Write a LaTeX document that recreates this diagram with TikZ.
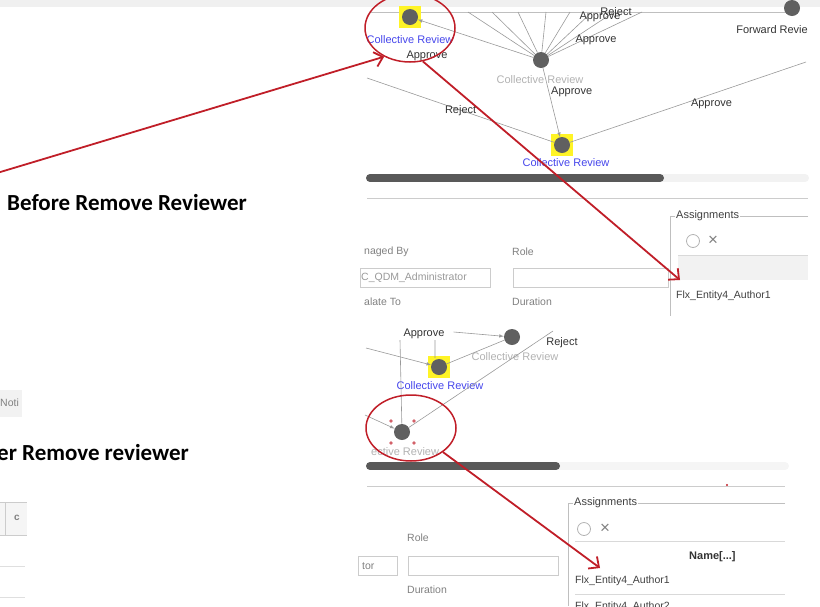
\documentclass[tikz,border=0pt]{standalone}
\usepackage{fontspec}
\setmainfont{Liberation Sans}
\newfontfamily\titlefont{Carlito}
\usetikzlibrary{positioning,arrows.meta,shapes.geometric}
\definecolor{crblue}{RGB}{70,70,235}
\definecolor{redmark}{RGB}{192,30,40}
\begin{document}
\begin{tikzpicture}[x=1pt,y=-1pt,
  dot/.style={circle,fill=gray!75!black,minimum size=16pt,inner sep=0pt},
  hilite/.style={fill=yellow!85!white,minimum size=22pt,inner sep=0pt},
  lbl/.style={font=\fontsize{11}{13}\selectfont,inner sep=1pt,text=black!80},
  flbl/.style={font=\fontsize{10.5}{12}\selectfont,inner sep=1pt,text=gray,anchor=west},
  edge/.style={gray!80,line width=0.6pt},
  ring/.style={ellipse,draw=redmark,line width=1.5pt,inner sep=0pt},
  redarr/.style={redmark,line width=1.8pt,-{Straight Barb[length=8pt,width=15pt]}},
  title/.style={font=\titlefont\bfseries\fontsize{23}{26}\selectfont,anchor=west,inner sep=0pt}]
\useasboundingbox (0,0) rectangle (820,606);
\fill[gray!12] (0,0) rectangle (820,7);
\draw[gray!50,line width=1pt] (370,12) -- (790,12);
% left page
\node[title] (before) at (7,203) {Before Remove Reviewer};
\node[title] (after) at (-3,453) {er Remove reviewer};
\fill[gray!10] (0,390) rectangle (22,417);
\node[flbl] (noti) at (-1,403) {Noti};
\fill[gray!8] (0,502) rectangle (27,535);
\draw[gray!40] (5,502) -- (5,535) (0,502) -- (27,502) (0,535) -- (27,535);
\node[flbl,font=\fontsize{10}{12}\selectfont\bfseries] at (13,518) {c};
\draw[gray!25] (0,566) -- (25,566) (0,597) -- (25,597);
% first graph
\node[hilite] at (410,17) {};
\node[dot] (cr1) at (410,17) {};
\node[lbl,text=crblue] (cr1t) at (410,40) {Collective Review};
\node[lbl] at (427,56) {Approve};
\node[dot] (cr2) at (541,60) {};
\node[lbl,text=gray!60] at (540,80) {Collective Review};
\foreach \X [count=\Y] in {468,492,518,546,570,592,614,642}
{\coordinate (fan-\Y) at (\X,12);
\draw[edge] (cr2) -- (fan-\Y);}
\draw[edge,-latex] (cr2) -- (cr1);
\node[lbl] at (600,17) {Approve};
\node[lbl] at (616,13) {Reject};
\node[lbl] at (596,40) {Approve};
\node[dot] (fwd) at (792,8) {};
\node[lbl,anchor=east] at (809,30) {Forward Revie};
\node[hilite] at (562,145) {};
\node[dot] (cr3) at (562,145) {};
\node[lbl,text=crblue] at (566,163) {Collective Review};
\draw[edge,-latex] (cr2) -- node[lbl,pos=0.35,right=1pt] {Approve} (cr3);
\coordinate (in1) at (367,78);
\coordinate (out1) at (806,62);
\draw[edge] (in1) -- node[lbl,pos=0.5] {Reject} (cr3);
\draw[edge] (cr3) -- node[lbl,pos=0.6,below=3pt] {Approve} (out1);
\draw[gray!10,line width=8pt,line cap=round] (370,178) -- (805,178);
\draw[gray!70!black,line width=8pt,line cap=round] (370,178) -- (660,178);
\draw[gray!40] (367,198) -- (808,198);
% first form
\node[flbl] at (363,252) {naged By};
\node[flbl] at (511,252) {Role};
\draw[gray!40] (360,268) rectangle (490,287) (513,268) rectangle (668,287);
\node[flbl,text=gray!80] (mgr) at (360,278) {C\_QDM\_Administrator};
\node[flbl] at (363,302) {alate To};
\node[flbl] at (511,302) {Duration};
\draw[gray!50] (808,216) -| (670,316);
\node[flbl,fill=white,text=black!75,font=\fontsize{11}{12}\selectfont] (asg1) at (675,216) {Assignments};
\node[circle,draw=gray!60,line width=0.8pt,minimum size=13pt,inner sep=0pt] (add1) at (693,241) {};
\node[text=gray,font=\fontsize{17}{17}\selectfont,right=8pt of add1,inner sep=0pt] (del1) {×};
\draw[gray!30] (678,255) -- (808,255);
\fill[gray!10] (678,256) rectangle (808,280);
\node[flbl,text=black!75] (usr1) at (675,296) {Flx\_Entity4\_Author1};
% second graph
\node[hilite] at (439,367) {};
\node[dot] (cr4) at (439,367) {};
\node[lbl,text=crblue] at (440,386) {Collective Review};
\node[dot] (cr5) at (512,337) {};
\node[lbl,text=gray!60] at (515,357) {Collective Review};
\node[lbl] (ap2) at (424,334) {Approve};
\node[lbl] at (562,343) {Reject};
\node[dot] (cr6) at (402,432) {};
\node[lbl,text=gray!60,anchor=west] at (370,452) {ective Review};
\foreach \X/\Z in {391/421,414/421,391/443,414/443}
{\fill[redmark!70] (\X,\Z) circle (1.8);}
\coordinate (in2) at (366,348);
\coordinate (in3) at (365,415);
\coordinate (rj2) at (553,331);
\draw[edge,-latex] (in2) -- (cr4);
\draw[edge,-latex] (ap2.east) ++(8,-2) -- (cr5);
\draw[edge] (cr4) -- (cr5);
\draw[edge] (rj2) -- (cr6);
\draw[edge] (cr6) -- (400,340) (435,340) -- (435,358);
\draw[edge,-latex] (in3) -- (cr6);
\draw[gray!8,line width=8pt,line cap=round] (370,466) -- (785,466);
\draw[gray!70!black,line width=8pt,line cap=round] (370,466) -- (556,466);
\draw[gray!40] (367,486) -- (785,486);
\fill[redmark] (727,485) circle (1.2);
% second form
\node[flbl] at (406,538) {Role};
\draw[gray!40] (358,556) rectangle (397,575) (408,556) rectangle (558,575);
\node[flbl] (adm2) at (361,566) {tor};
\node[flbl] at (406,590) {Duration};
\draw[gray!50] (785,503) -| (568,606);
\node[flbl,fill=white,text=black!75,font=\fontsize{11}{12}\selectfont] (asg2) at (573,503) {Assignments};
\node[circle,draw=gray!60,line width=0.8pt,minimum size=13pt,inner sep=0pt] (add2) at (584,529) {};
\node[text=gray,font=\fontsize{17}{17}\selectfont,right=9pt of add2,inner sep=0pt] (del2) {×};
\draw[gray!30] (575,541) -- (785,541) (575,594) -- (785,594);
\node[flbl,text=black!80,font=\fontsize{11}{12}\selectfont\bfseries] (name) at (688,557) {Name[...]};
\node[flbl,text=black!75] (usr2) at (574,581) {Flx\_Entity4\_Author1};
\node[flbl,text=black!75] (usr3) at (574,607) {Flx\_Entity4\_Author2};
% red marks
\node[ring,minimum width=90pt,minimum height=68pt] (ring1) at (410,28) {};
\node[ring,minimum width=90pt,minimum height=66pt] (ring2) at (411,428) {};
\coordinate (src1) at (-3,173);
\coordinate (tip1) at (680,280);
\coordinate (tip2) at (600,568);
\draw[redarr] (src1) -- (ring1.228);
\draw[redarr] (ring1.291) -- (tip1);
\draw[redarr] (ring2.323) -- (tip2);
\end{tikzpicture}
\end{document}
